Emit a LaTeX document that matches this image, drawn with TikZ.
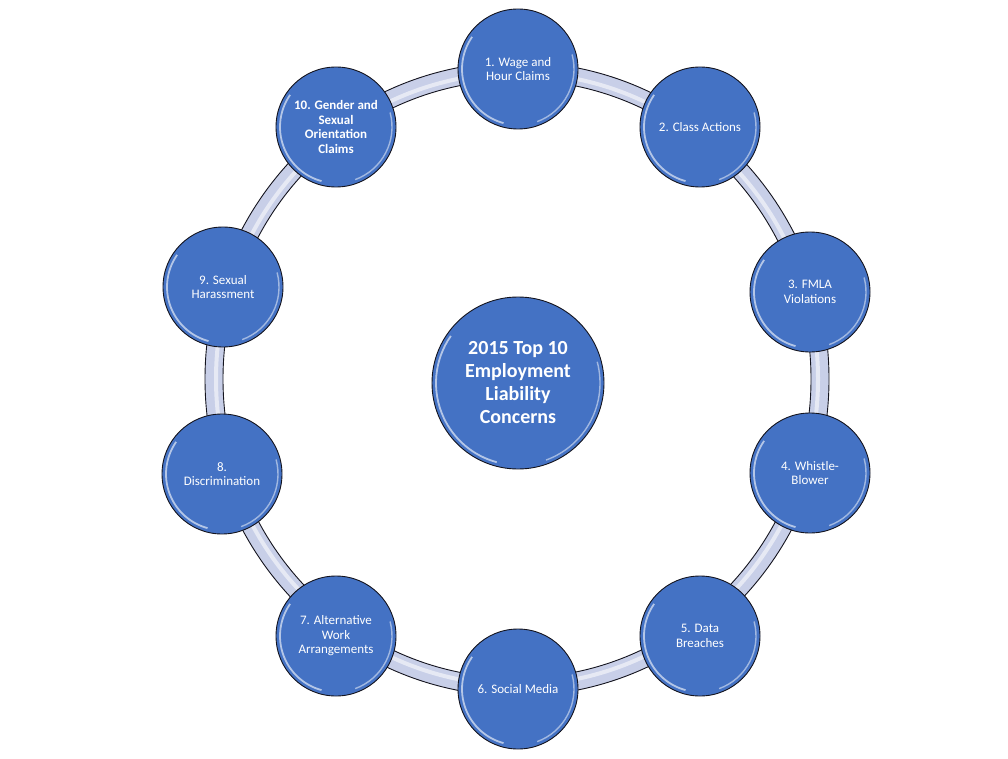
\documentclass[tikz,border=0pt]{standalone}
\usepackage{fontspec}
\setmainfont{Carlito}
\usepackage{tikz}
\usetikzlibrary{calc}
\definecolor{bubbleblue}{RGB}{68,114,196}
\definecolor{ringlav}{RGB}{200,207,232}
\definecolor{rimdark}{RGB}{20,20,30}
\tikzset{
  ring/.style={fill=ringlav,draw=rimdark,line width=0.9pt,even odd rule},
  bubble/.style={circle,draw=rimdark,line width=0.9pt,fill=bubbleblue,
                 text=white,align=center,inner sep=0pt,minimum size=#1,
                 font=\fontsize{13}{14.5}\selectfont,
                 path picture={
                   \draw[white,opacity=.6,line width=1.8pt]
                     ([shift={(145:{#1/2-4pt})}]path picture bounding box.center)
                     arc[start angle=145,end angle=255,radius={#1/2-4pt}];
                   \draw[white,opacity=.5,line width=1.4pt]
                     ([shift={(-70:{#1/2-4pt})}]path picture bounding box.center)
                     arc[start angle=-70,end angle=15,radius={#1/2-4pt}];
                 }},
  bubble/.default=120pt,
  hubbubble/.style={bubble=172pt,font=\fontsize{20}{23}\selectfont\bfseries}
}
\begin{document}
\begin{tikzpicture}[x=1pt,y=-1pt]
  \useasboundingbox (0,0) rectangle (1008,759);
  % ring behind the items
  \coordinate (ringc) at (517,379);
  \path[ring] (ringc) ellipse [x radius=312,y radius=317]
              (ringc) ellipse [x radius=294,y radius=299];
  \draw[white,opacity=.55,line width=4pt] (ringc) ellipse [x radius=301,y radius=306];
  % hub
  \node[hubbubble] (hub) at (518,383)
    {2015 Top 10\\Employment\\Liability\\Concerns};
  % items
  \node[bubble] (wage) at (518,69) {1. Wage and\\Hour Claims};
  \node[bubble] (class) at (700,127) {2. Class Actions};
  \node[bubble] (fmla) at (810,292) {3. FMLA\\Violations};
  \node[bubble] (whistle) at (810,473) {4. Whistle-\\Blower};
  \node[bubble] (breach) at (700,636) {5. Data\\Breaches};
  \node[bubble] (social) at (518,689) {6. Social Media};
  \node[bubble] (altwork) at (336,636) {7. Alternative\\Work\\Arrangements};
  \node[bubble] (discrim) at (222,474) {8.\\Discrimination};
  \node[bubble] (harass) at (223,287) {9. Sexual\\Harassment};
  \node[bubble,font=\fontsize{13}{14.5}\selectfont\bfseries] (gender) at (336,127)
    {10. Gender and\\Sexual\\Orientation\\Claims};
\end{tikzpicture}
\end{document}
